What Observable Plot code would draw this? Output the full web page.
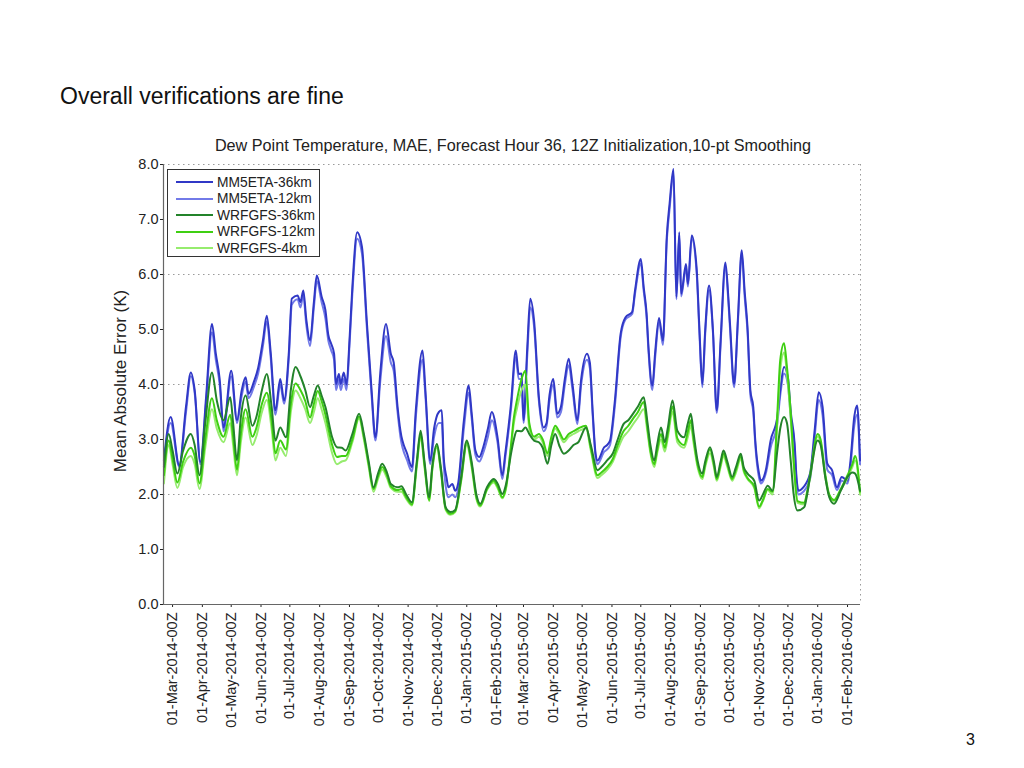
<!DOCTYPE html>
<html>
<head>
<meta charset="utf-8">
<script src="https://cdn.jsdelivr.net/npm/d3@7"></script>
<script src="https://cdn.jsdelivr.net/npm/@observablehq/plot@0.6"></script>
<style>
  html, body { margin:0; padding:0; background:#fff; }
  body { width:1024px; height:768px; position:relative; overflow:hidden; font-family:"Liberation Sans", Arial, sans-serif; }
  .abs { position:absolute; white-space:nowrap; line-height:1; }
  #legend { position:absolute; left:167px; top:169px; width:153px; height:88px; border:1px solid #333; background:#fff; box-sizing:border-box; }
  #legend .row { position:absolute; left:8px; height:16px; display:flex; align-items:center; font-size:13.8px; color:#222; }
  #legend svg { margin-right:4px; }
</style>
</head>
<body>
<div class="abs" style="left:60px;top:85px;font-size:23px;color:#111;">Overall verifications are fine</div>
<div id="chart" style="position:absolute;left:0;top:0;"></div>
<div class="abs" id="title" style="left:0;width:1026px;text-align:center;top:137px;font-size:16.2px;color:#222;">Dew Point Temperature, MAE, Forecast Hour 36, 12Z Initialization,10-pt Smoothing</div>
<div class="abs" id="ylab" style="left:120px;top:381px;font-size:17px;color:#222;transform:translate(-50%,-50%) rotate(-90deg);">Mean Absolute Error (K)</div>
<div id="legend"></div>
<div class="abs" style="left:966px;top:732px;font-size:16px;color:#111;">3</div>
<script>
// ---- data (days counted from 01-Mar-2014) ----
const seriesNames = ["MM5ETA-36km", "MM5ETA-12km", "WRFGFS-36km", "WRFGFS-12km", "WRFGFS-4km"];
const seriesColors = ["#3038c6", "#727ae8", "#23832a", "#3fcf12", "#96ec6e"];
const yTicks = [0, 1, 2, 3, 4, 5, 6, 7, 8];
const gridY = [2, 4, 6, 8];

const mm5Days = [
  -9,-2,7,14,19,23,29,35,41,45,
  49,53,61,67,72,76,79,85,89,94,
  98,102,107,112,116,121,124,130,133,136,
  139,143,147,150,155,159,162,165,168,170,
  173,175,178,181,184,187,192,197,202,207,
  211,216,222,227,230,234,237,244,249,253,
  260,263,268,272,277,280,282,285,287,291,
  294,297,303,308,311,315,319,323,328,332,
  338,343,346,352,357,360,363,365,369,372,
  376,381,386,389,392,396,400,404,408,412,
  416,421,425,431,434,437,440,442,449,452,
  455,460,466,471,478,481,487,490,493,495,
  499,502,506,510,514,517,521,524,527,529,
  534,536,540,545,548,551,554,558,562,566,
  570,575,578,580,584,588,592,595,598,601,
  604,606,610,612,617,622,629,632,636,640,
  643,647,649,651,656,663,668,672,676,681,
  686,691,696,702,705,709,712,715
];
const mm5eta36 = [
  2.62,3.41,2.53,3.6,4.22,3.9,2.59,3.8,5.10,4.56,
  4.1,3.22,4.25,3.35,3.9,4.13,3.83,4.07,4.3,4.8,
  5.25,4.6,3.53,4.10,3.71,4.6,5.56,5.62,5.5,5.71,
  5.2,4.80,5.5,5.98,5.6,5.35,4.9,4.74,4.56,4.01,
  4.19,4.01,4.22,4.0,4.8,5.77,6.77,6.50,5.16,3.9,
  3.04,4.2,5.10,4.56,4.4,3.6,3.16,2.74,2.50,3.53,
  4.62,3.89,2.62,3.2,3.50,3.53,2.68,2.3,2.13,2.19,
  2.07,2.2,3.35,3.98,3.5,2.80,2.68,2.85,3.2,3.50,
  3.04,2.35,2.74,3.65,4.62,4.19,4.2,3.35,4.7,5.56,
  5.16,3.77,3.22,3.3,3.8,4.10,3.47,3.6,4.1,4.47,
  4.0,3.35,4.1,4.56,4.4,3.5,2.74,2.62,2.86,2.9,
  2.98,3.7,4.92,5.22,5.32,5.71,6.28,5.77,5.3,4.68,
  3.98,4.6,5.21,4.80,6.68,7.3,7.92,5.59,6.77,5.65,
  6.19,5.83,6.71,6.13,5.0,4.01,5.0,5.80,5.0,3.53,
  4.8,6.22,5.6,5.04,4.01,5.2,6.44,5.7,5.04,3.89,
  3.59,3.0,2.38,2.25,2.44,2.98,3.41,3.9,4.32,4.13,
  3.5,2.92,2.3,2.07,2.13,2.38,3.2,3.86,3.6,2.56,
  2.44,2.13,2.32,2.25,2.6,3.41,3.62,2.62
];
const mm5eta12 = [
  2.55,3.30,2.50,3.5,4.15,3.85,2.55,3.7,4.95,4.45,
  4.0,3.15,4.15,3.3,3.8,4.05,3.75,3.98,4.2,4.7,
  5.15,4.5,3.45,4.0,3.65,4.5,5.45,5.55,5.4,5.62,
  5.1,4.7,5.4,5.88,5.5,5.2,4.8,4.62,4.45,3.9,
  4.08,3.9,4.1,3.9,4.7,5.65,6.65,6.38,5.05,3.8,
  2.98,4.05,4.88,4.4,4.25,3.5,3.05,2.62,2.42,3.4,
  4.45,3.78,2.55,3.05,3.30,3.30,2.55,2.05,1.95,2.0,
  1.95,2.1,3.2,3.85,3.4,2.72,2.6,2.75,3.05,3.35,
  2.95,2.28,2.66,3.55,4.5,4.1,4.1,3.3,4.55,5.4,
  5.05,3.7,3.15,3.25,3.7,4.0,3.4,3.5,4.0,4.35,
  3.9,3.28,4.0,4.45,4.3,3.42,2.68,2.55,2.78,2.82,
  2.9,3.6,4.85,5.18,5.28,5.65,6.2,5.7,5.22,4.6,
  3.9,4.5,5.15,4.72,6.6,7.2,7.85,5.55,6.7,5.6,
  6.12,5.78,6.65,6.05,4.92,3.95,4.92,5.72,4.95,3.48,
  4.72,6.15,5.52,4.95,3.95,5.12,6.38,5.6,4.95,3.8,
  3.5,2.92,2.3,2.2,2.38,2.85,3.3,3.8,4.2,4.0,
  3.4,2.85,2.22,2.0,2.05,2.28,3.08,3.72,3.45,2.45,
  2.35,2.08,2.25,2.2,2.5,3.25,3.45,2.55
];

const wrfDays = [
  -9,-4,0,5,11,19,23,28,34,41,
  46,53,60,63,67,71,76,83,87,93,
  98,103,107,112,118,123,128,133,138,143,
  147,151,155,159,166,171,176,180,187,194,
  199,204,209,214,218,223,227,234,238,243,
  249,254,258,262,267,270,275,279,284,289,
  294,300,306,311,316,320,327,334,338,343,
  347,352,355,358,363,367,371,376,381,385,
  390,394,398,402,407,412,417,422,430,435,
  442,446,452,458,463,469,474,479,484,490,
  494,497,501,504,508,512,515,520,525,532,
  536,539,542,546,551,554,559,563,566,570,
  573,577,582,586,591,594,598,605,610,614,
  619,624,629,632,636,639,643,646,650,657,
  660,663,671,674,679,683,688,695,702,707,
  710,715
];
const wrfgfs36 = [
  2.50,3.10,2.8,2.38,2.8,3.10,2.9,2.35,3.3,4.22,
  3.71,3.35,3.77,3.3,2.62,3.4,3.80,3.25,3.4,3.9,
  4.19,3.6,2.98,3.22,3.04,3.9,4.32,4.15,3.9,3.59,
  3.8,3.98,3.8,3.59,3.04,2.86,2.85,2.80,3.1,3.47,
  3.1,2.6,2.13,2.4,2.56,2.4,2.19,2.13,2.15,2.0,
  1.86,2.6,3.16,2.6,1.95,2.5,2.92,2.5,1.77,1.68,
  1.72,2.3,2.98,2.6,2.0,1.83,2.13,2.28,2.2,2.01,
  2.2,2.74,3.0,3.16,3.15,3.22,3.1,2.98,2.95,2.85,
  2.56,2.9,3.10,2.9,2.74,2.8,2.9,2.95,3.22,2.9,
  2.44,2.5,2.62,2.75,3.0,3.28,3.35,3.47,3.6,3.77,
  3.3,2.9,2.62,2.9,3.22,2.95,3.2,3.71,3.16,3.04,
  3.3,3.47,3.1,2.62,2.38,2.6,2.86,2.6,2.32,2.6,
  2.80,2.6,2.32,2.5,2.74,2.5,2.38,2.25,1.89,2.0,
  2.16,2.07,2.80,3.2,3.41,3.3,2.6,2.0,1.71,1.77,
  2.0,2.32,2.98,2.9,2.3,1.95,1.83,2.07,2.32,2.4,
  2.38,2.07
];
const wrfgfs12 = [
  2.35,2.98,2.65,2.22,2.6,2.85,2.7,2.2,3.0,3.75,
  3.35,3.05,3.45,3.05,2.45,3.1,3.55,3.05,3.2,3.65,
  3.85,3.35,2.75,2.98,2.82,3.65,4.02,3.9,3.7,3.4,
  3.65,3.88,3.7,3.45,2.9,2.68,2.7,2.7,3.0,3.42,
  3.05,2.55,2.1,2.35,2.5,2.35,2.15,2.08,2.1,1.95,
  1.82,2.55,3.1,2.55,1.9,2.45,2.88,2.45,1.75,1.65,
  1.7,2.25,2.95,2.55,1.95,1.8,2.1,2.25,2.15,1.95,
  2.15,2.9,3.4,3.7,4.1,4.25,3.3,3.05,3.1,3.0,
  2.75,3.05,3.25,3.15,3.0,3.1,3.15,3.2,3.25,2.85,
  2.35,2.4,2.5,2.65,2.9,3.15,3.25,3.38,3.5,3.68,
  3.2,2.8,2.55,2.8,3.1,2.85,3.1,3.6,3.02,2.9,
  3.15,3.35,3.0,2.55,2.32,2.55,2.82,2.55,2.28,2.55,
  2.75,2.55,2.28,2.45,2.7,2.45,2.3,2.15,1.78,1.9,
  2.1,2.05,3.47,4.44,4.75,4.32,3.47,2.62,1.88,1.85,
  2.05,2.35,3.1,3.0,2.35,2.0,1.9,2.1,2.35,2.55,
  2.7,2.05
];
const wrfgfs4 = [
  2.2,2.9,2.55,2.12,2.5,2.7,2.55,2.1,2.85,3.55,
  3.2,2.95,3.3,2.9,2.35,2.95,3.4,2.9,3.05,3.5,
  3.72,3.2,2.62,2.85,2.7,3.5,3.89,3.75,3.55,3.3,
  3.5,3.75,3.55,3.3,2.75,2.55,2.6,2.62,2.95,3.38,
  3.0,2.5,2.05,2.3,2.45,2.3,2.12,2.05,2.05,1.92,
  1.8,2.5,3.05,2.5,1.88,2.42,2.85,2.42,1.72,1.63,
  1.68,2.22,2.9,2.5,1.92,1.78,2.08,2.22,2.12,1.93,
  2.12,2.85,3.3,3.55,3.9,4.0,3.2,3.0,3.05,2.95,
  2.7,3.0,3.2,3.1,2.95,3.05,3.1,3.15,3.2,2.8,
  2.3,2.35,2.45,2.6,2.82,3.05,3.15,3.28,3.4,3.55,
  3.12,2.75,2.5,2.75,3.0,2.78,3.02,3.5,2.95,2.85,
  3.05,3.25,2.92,2.5,2.28,2.5,2.75,2.5,2.25,2.5,
  2.7,2.5,2.25,2.4,2.65,2.42,2.28,2.12,1.75,1.88,
  2.08,2.0,3.3,4.25,4.58,4.2,3.35,2.55,1.85,1.82,
  2.02,2.3,3.05,2.95,2.3,1.98,1.88,2.08,2.3,2.5,
  2.62,2.0
];

// ---- build ----
const toDate = d => new Date(Date.UTC(2014, 2, 1 + d));
const xStart = new Date(Date.UTC(2014, 1, 19, 14));
const xEnd = new Date(Date.UTC(2016, 1, 14, 12));
const monthTicks = d3.utcMonths(new Date(Date.UTC(2014, 2, 1)), new Date(Date.UTC(2016, 1, 2)));
const fmt = d3.utcFormat("%d-%b-%Y-00Z");

function build(days, vals, name) {
  const n = Math.min(days.length, vals.length);
  const out = [];
  for (let i = 0; i < n; i++) out.push({date: toDate(days[i]), value: vals[i], series: name});
  return out;
}
const data = [
  build(mm5Days, mm5eta36, seriesNames[0]),
  build(mm5Days, mm5eta12, seriesNames[1]),
  build(wrfDays, wrfgfs36, seriesNames[2]),
  build(wrfDays, wrfgfs12, seriesNames[3]),
  build(wrfDays, wrfgfs4, seriesNames[4])
];

// draw order: blues first, then greens (lightest under darkest)
const order = [1, 0, 4, 3, 2];

const chart = Plot.plot({
  width: 1024,
  height: 768,
  marginLeft: 163,
  marginRight: 164,
  marginTop: 164,
  marginBottom: 164,
  style: {fontFamily: "'Liberation Sans', Arial, sans-serif", fontSize: "14.5px", color: "#222", background: "transparent", overflow: "visible"},
  x: {type: "utc", domain: [xStart, xEnd], ticks: monthTicks, tickFormat: fmt, tickRotate: -90, tickSize: 3, tickPadding: 5, label: null},
  y: {domain: [0, 8], ticks: yTicks, tickFormat: d => d.toFixed(1), tickSize: 3, tickPadding: 2, label: null},
  marks: [
    Plot.ruleY(gridY, {stroke: "#9a9a9a", strokeDasharray: "1.5,3.5", strokeWidth: 1}),
    Plot.ruleX([xEnd], {stroke: "#9a9a9a", strokeDasharray: "1.5,3.5", strokeWidth: 1}),
    ...order.map(i => Plot.line(data[i], {x: "date", y: "value", stroke: seriesColors[i], strokeWidth: 2, curve: "monotone-x"})),
    Plot.ruleX([xStart], {stroke: "#666", strokeWidth: 1.2}),
    Plot.ruleY([0], {stroke: "#666", strokeWidth: 1.2})
  ]
});
document.getElementById("chart").appendChild(chart);

// legend
const legend = document.getElementById("legend");
seriesNames.forEach((name, i) => {
  const row = document.createElement("div");
  row.className = "row";
  row.style.top = (4 + i * 16.5) + "px";
  row.innerHTML = `<svg width="37" height="4"><line x1="0" y1="2" x2="37" y2="2" stroke="${seriesColors[i]}" stroke-width="1.8"/></svg><span>${name}</span>`;
  legend.appendChild(row);
});
</script>
</body>
</html>
